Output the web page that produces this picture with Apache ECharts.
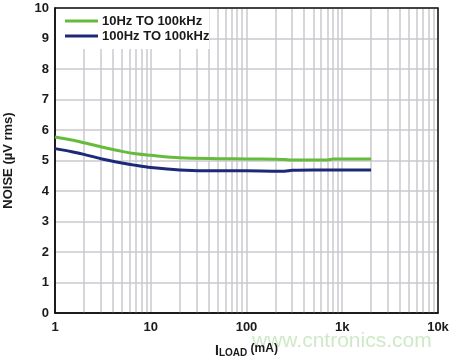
<!DOCTYPE html>
<html><head><meta charset="utf-8">
<script src="https://cdn.jsdelivr.net/npm/echarts@6/dist/echarts.min.js"></script>
<style>html,body{margin:0;padding:0;background:#fff}#c{width:450px;height:359px}</style>
</head><body><div id="c"></div>
<script>
const loadCurrent = [1, 1.5, 2, 3, 5, 7, 10, 20, 50, 100, 200, 250, 300, 500, 700, 800, 1000, 2000];
const noise10Hz  = [5.77, 5.67, 5.58, 5.45, 5.30, 5.22, 5.17, 5.09, 5.06, 5.05, 5.04, 5.03, 5.02, 5.02, 5.02, 5.05, 5.05, 5.05];
const noise100Hz = [5.39, 5.29, 5.20, 5.06, 4.92, 4.84, 4.77, 4.69, 4.66, 4.66, 4.65, 4.65, 4.68, 4.69, 4.69, 4.69, 4.69, 4.69];
const seriesNames = ['10Hz TO 100kHz', '100Hz TO 100kHz'];
const xTickLabels = {1: '1', 10: '10', 100: '100', 1000: '1k', 10000: '10k'};
const minorGridX = [2,3,4,5,6,7,8,9, 20,30,40,50,60,70,80,90, 200,300,400,500,600,700,800,900, 2000,3000,4000,5000,6000,7000,8000,9000];

const FONT = '"Liberation Sans", Arial, sans-serif';
const GRID = '#c9c9cf';
const TXT = '#1a1a1a';
const chart = echarts.init(document.getElementById('c'), null, {renderer: 'canvas'});
chart.setOption({
  animation: false,
  backgroundColor: '#fff',
  grid: {left: 55, right: 12, top: 8, bottom: 46, outerBoundsMode: 'none', containLabel: false,
    show: true, borderColor: '#111', borderWidth: 1.5, backgroundColor: 'transparent', z: 3},
  legend: {
    orient: 'vertical', left: 56, top: 9,
    padding: [5, 0, 6, 9], itemGap: 1,
    itemWidth: 33, itemHeight: 14,
    backgroundColor: '#fff',
    textStyle: {fontFamily: FONT, fontWeight: 'bold', fontSize: 13, lineHeight: 14, color: TXT, padding: [0, 0, 0, -1]},
    data: seriesNames.map(n => ({name: n, icon: 'path://M0,0 L33,0 L33,3 L0,3 Z'}))
  },
  xAxis: {
    type: 'log', logBase: 10, min: 1, max: 10000,
    axisLine: {show: true, lineStyle: {color: '#111', width: 1.5}},
    axisTick: {show: false},
    splitLine: {show: true, lineStyle: {color: GRID, width: 1.5}},
    axisLabel: {fontFamily: FONT, fontWeight: 'bold', fontSize: 13, color: TXT, margin: 8,
      formatter: v => xTickLabels[Math.round(v)] || ''},
    name: '{a|I}{b|LOAD}{c| (mA)}', nameLocation: 'middle', nameGap: 29,
    nameTextStyle: {fontFamily: FONT, fontWeight: 'bold', color: TXT,
      rich: {
        a: {fontFamily: FONT, fontWeight: 'bold', fontSize: 14, color: TXT, lineHeight: 16, verticalAlign: 'bottom'},
        b: {fontFamily: FONT, fontWeight: 'bold', fontSize: 10, color: TXT, lineHeight: 14, verticalAlign: 'bottom', padding: [0, 0, 0, 0]},
        c: {fontFamily: FONT, fontWeight: 'bold', fontSize: 12, color: TXT, lineHeight: 14, verticalAlign: 'bottom', padding: [0, 0, 3, 0]}
      }}
  },
  yAxis: {
    type: 'value', min: 0, max: 10, interval: 1,
    axisLine: {show: true, lineStyle: {color: '#111', width: 1.5}},
    axisTick: {show: false},
    splitLine: {show: true, lineStyle: {color: GRID, width: 1.5}},
    axisLabel: {fontFamily: FONT, fontWeight: 'bold', fontSize: 13, color: TXT, margin: 6},
    name: 'NOISE (µV rms)', nameLocation: 'middle', nameGap: 40,
    nameTextStyle: {fontFamily: FONT, fontWeight: 'bold', fontSize: 13, color: TXT}
  },
  series: [
    {
      name: seriesNames[0], type: 'line', symbol: 'none', smooth: 0.3, z: 5,
      lineStyle: {color: '#66bb3c', width: 3}, itemStyle: {color: '#66bb3c'},
      data: loadCurrent.map((x, i) => [x, noise10Hz[i]]),
      markLine: {
        silent: true, symbol: 'none', animation: false, z: 1,
        label: {show: false},
        lineStyle: {color: GRID, width: 1.5, type: 'solid'},
        data: minorGridX.map(v => ({xAxis: v}))
      }
    },
    {
      name: seriesNames[1], type: 'line', symbol: 'none', smooth: 0.3, z: 5,
      lineStyle: {color: '#1d2878', width: 3}, itemStyle: {color: '#1d2878'},
      data: loadCurrent.map((x, i) => [x, noise100Hz[i]])
    }
  ],
  graphic: [{
    type: 'text', left: 252, top: 331, z: 0,
    style: {text: 'www.cntronics.com', font: '21px ' + FONT, fill: '#cfe9c8'}
  }]
});
</script></body></html>
